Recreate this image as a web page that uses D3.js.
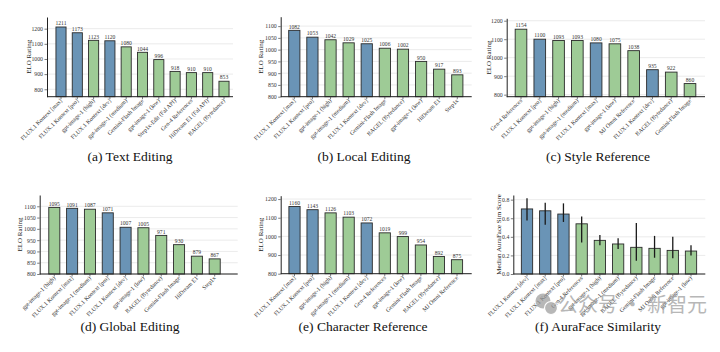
<!DOCTYPE html>
<html><head><meta charset="utf-8">
<script src="https://cdn.jsdelivr.net/npm/d3@7"></script>
<style>body{margin:0;background:#fff}svg{display:block}</style>
</head><body><svg id="c" width="720" height="352"></svg>
<script>
// ---- data ----
const textEditCats = ["FLUX.1 Kontext [max]","FLUX.1 Kontext [pro]","gpt-image-1 (high)","FLUX.1 Kontext [dev]","gpt-image-1 (medium)","Gemini-Flash Image","gpt-image-1 (low)","Step1x-Edit (Fal API)","Gen-4 References","HiDream E1 (Fal API)","BAGEL (Bytedance)"];
const textEditVals = [1211,1173,1123,1120,1080,1044,996,918,910,910,853];

const localEditCats = ["FLUX.1 Kontext [max]","FLUX.1 Kontext [pro]","gpt-image-1 (high)","gpt-image-1 (medium)","FLUX.1 Kontext [dev]","Gemini-Flash Image","BAGEL (Bytedance)","gpt-image-1 (low)","HiDream E1","Step1x"];
const localEditVals = [1082,1053,1042,1029,1025,1006,1002,950,917,893];

const styleRefCats = ["Gen-4 References","FLUX.1 Kontext [pro]","gpt-image-1 (high)","gpt-image-1 (medium)","FLUX.1 Kontext [max]","gpt-image-1 (low)","MJ Omni Reference","FLUX.1 Kontext [dev]","BAGEL (Bytedance)","Gemini-Flash Image"];
const styleRefVals = [1154,1100,1093,1093,1080,1075,1038,935,922,860];

const globalEditCats = ["gpt-image-1 (high)","FLUX.1 Kontext [max]","gpt-image-1 (medium)","FLUX.1 Kontext [pro]","FLUX.1 Kontext [dev]","gpt-image-1 (low)","BAGEL (Bytedance)","Gemini-Flash Image","HiDream E1","Step1x"];
const globalEditVals = [1095,1091,1087,1071,1007,1005,971,930,879,867];

const charRefCats = ["FLUX.1 Kontext [max]","FLUX.1 Kontext [pro]","gpt-image-1 (high)","gpt-image-1 (medium)","FLUX.1 Kontext [dev]","Gen-4 References","gpt-image-1 (low)","Gemini-Flash Image","BAGEL (Bytedance)","MJ Omni Reference"];
const charRefVals = [1160,1143,1126,1103,1072,1019,999,954,892,875];

const auraCats = ["FLUX.1 Kontext [dev]","FLUX.1 Kontext [max]","FLUX.1 Kontext [pro]","Gen-4 References","gpt-image-1 (high)","gpt-image-1 (medium)","BAGEL (Bytedance)","Gemini-Flash Image","MJ Omni Reference","gpt-image-1 (low)"];
const auraVals = [0.70,0.68,0.645,0.54,0.362,0.323,0.287,0.276,0.254,0.247];
const auraLow  = [0.575,0.53,0.56,0.34,0.31,0.27,0.143,0.175,0.17,0.20];
const auraHigh = [0.815,0.767,0.76,0.62,0.42,0.384,0.55,0.41,0.40,0.31];

const eloTicksA = [800,900,1000,1100,1200];
const eloTicksB = [800,850,900,950,1000,1050,1100];
const eloTicksC = [800,900,1000,1100,1200];
const eloTicksD = [800,850,900,950,1000,1050,1100];
const eloTicksE = [800,900,1000,1100,1200];
const auraTicks = [0.0,0.2,0.4,0.6,0.8];

// ---- layout ----
const panels = [
 {title:"(a) Text Editing", cats:textEditCats, vals:textEditVals, ticks:eloTicksA, ylabel:"ELO Rating", fmt:d3.format("d"),
  L:{left:47,right:233,top:17,bottom:96.7,c0:61,c1:224,ymin:751,ymax:1277,ylabX:31,titleX:130,titleY:161}},
 {title:"(b) Local Editing", cats:localEditCats, vals:localEditVals, ticks:eloTicksB, ylabel:"ELO Rating", fmt:d3.format("d"),
  L:{left:280.7,right:471.7,top:16.7,bottom:96.7,c0:294.3,c1:457.3,ymin:800,ymax:1140,ylabX:262.7,titleX:364,titleY:161}},
 {title:"(c) Style Reference", cats:styleRefCats, vals:styleRefVals, ticks:eloTicksC, ylabel:"ELO Rating", fmt:d3.format("d"),
  L:{left:506.7,right:705,top:18.3,bottom:96.7,c0:521,c1:690,ymin:789,ymax:1213,ylabX:490.7,titleX:598,titleY:161}},
 {title:"(d) Global Editing", cats:globalEditCats, vals:globalEditVals, ticks:eloTicksD, ylabel:"ELO Rating", fmt:d3.format("d"),
  L:{left:39.7,right:237.7,top:195,bottom:274,c0:54.3,c1:214.7,ymin:800,ymax:1150,ylabX:22,titleX:130,titleY:331}},
 {title:"(e) Character Reference", cats:charRefCats, vals:charRefVals, ticks:eloTicksE, ylabel:"ELO Rating", fmt:d3.format("d"),
  L:{left:280.7,right:471.7,top:195.7,bottom:273.7,c0:294.5,c1:457,ymin:800,ymax:1218,ylabX:263.3,titleX:363,titleY:331}},
 {title:"(f) AuraFace Similarity", cats:auraCats, vals:auraVals, lo:auraLow, hi:auraHigh, ticks:auraTicks, ylabel:"Median AuraFace Sim Score", fmt:d3.format(".1f"),
  L:{left:513.3,right:705.3,top:195,bottom:274,c0:527,c1:691,ymin:0,ymax:0.85,ylabX:500.7,titleX:598,titleY:331}}
];

const BLUE = "#6a94b6", GREEN = "#9ecb96", EDGE = "#2a2a2a";
const SERIF = "'Liberation Serif','DejaVu Serif',Times,serif";
const svg = d3.select("#c");

panels.forEach(p => {
  const L = p.L;
  const g = svg.append("g");
  const y = d3.scaleLinear().domain([L.ymin, L.ymax]).range([L.bottom, L.top]);
  const x = d3.scalePoint().domain(p.cats).range([L.c0, L.c1]);
  const step = x.step();
  const bw = step * 0.62;

  g.selectAll("line.grid").data(p.ticks).join("line")
    .attr("x1", L.left).attr("x2", L.right)
    .attr("y1", d => y(d)).attr("y2", d => y(d))
    .attr("stroke", "#e6e6e6").attr("stroke-width", 0.8);

  g.selectAll("rect.bar").data(p.cats).join("rect")
    .attr("x", d => x(d) - bw/2).attr("width", bw)
    .attr("y", (d,i) => y(p.vals[i])).attr("height", (d,i) => L.bottom - y(p.vals[i]))
    .attr("fill", d => d.startsWith("FLUX.1 Kontext") ? BLUE : GREEN)
    .attr("stroke", EDGE).attr("stroke-width", 0.9);

  if (p.lo) {
    g.selectAll("line.err").data(p.cats).join("line")
      .attr("x1", d => x(d)).attr("x2", d => x(d))
      .attr("y1", (d,i) => y(p.lo[i])).attr("y2", (d,i) => y(p.hi[i]))
      .attr("stroke", "#1a1a1a").attr("stroke-width", 1.3);
  } else {
    g.selectAll("text.val").data(p.cats).join("text")
      .attr("x", d => x(d)).attr("y", (d,i) => y(p.vals[i]) - 1.8)
      .attr("text-anchor", "middle").attr("font-family", SERIF).attr("font-size", 5.6)
      .attr("fill", "#333").text((d,i) => p.vals[i]);
  }

  const ax = d3.axisLeft(y).tickValues(p.ticks).tickFormat(p.fmt).tickSize(2.5).tickSizeOuter(0).tickPadding(1.5);
  const ag = g.append("g").attr("transform", `translate(${L.left},0)`).call(ax);
  ag.select(".domain").attr("stroke", "#222").attr("stroke-width", 1);
  ag.selectAll(".tick line").attr("stroke", "#444").attr("stroke-width", 0.7);
  ag.selectAll(".tick text").attr("font-family", SERIF).attr("font-size", 5.8).attr("fill", "#333");

  g.append("line").attr("x1", L.left).attr("x2", L.right).attr("y1", L.bottom).attr("y2", L.bottom)
    .attr("stroke", "#222").attr("stroke-width", 1);
  g.selectAll("line.xt").data(p.cats).join("line")
    .attr("x1", d => x(d)).attr("x2", d => x(d)).attr("y1", L.bottom).attr("y2", L.bottom + 2.5)
    .attr("stroke", "#444").attr("stroke-width", 0.7);

  g.selectAll("text.xl").data(p.cats).join("text")
    .attr("transform", d => `translate(${x(d)+1.5},${L.bottom + 4.5}) rotate(-45)`)
    .attr("text-anchor", "end").attr("font-family", SERIF).attr("font-size", 5.9)
    .attr("fill", "#333").text(d => d);

  g.append("text")
    .attr("transform", `translate(${L.ylabX},${(L.top + L.bottom)/2}) rotate(-90)`)
    .attr("text-anchor", "middle").attr("font-family", SERIF).attr("font-size", 7)
    .attr("fill", "#222").text(p.ylabel);

  g.append("text").attr("x", L.titleX).attr("y", L.titleY)
    .attr("text-anchor", "middle").attr("font-family", SERIF).attr("font-size", 13.5)
    .attr("fill", "#111").text(p.title);
});

// watermark
const wm = svg.append("g").attr("opacity", 0.7);
wm.append("circle").attr("cx", 543).attr("cy", 301).attr("r", 7.5).attr("fill", "#9a9a9a");
wm.append("circle").attr("cx", 551).attr("cy", 308).attr("r", 6.5).attr("fill", "#9a9a9a").attr("stroke", "#fff").attr("stroke-width", 1.2);
wm.append("text").attr("x", 558).attr("y", 312).attr("font-family", "'Noto Sans CJK SC',sans-serif")
  .attr("font-size", 20).attr("fill", "#9a9a9a").text("公众号 · 新智元");
</script></body></html>
